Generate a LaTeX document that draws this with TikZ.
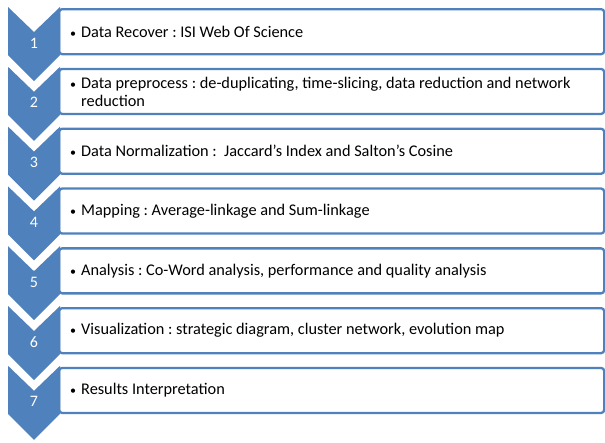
\documentclass[tikz,border=0pt]{standalone}
\usepackage{fontspec}
\setmainfont{Carlito}
\frenchspacing
\usetikzlibrary{positioning,calc}
\definecolor{chev}{RGB}{79,129,189}
\newcommand{\bul}{{\fontsize{12}{12}\selectfont\textbullet}\hspace{5pt}}
\tikzset{num/.style={text=white, font=\fontsize{16}{18}\selectfont, inner sep=0pt}}
\tikzstyle{box}=[draw=chev, line width=2.3pt, rounded corners=3pt, fill=white, minimum width=545pt, minimum height=45pt, anchor=north west, inner sep=0pt]
\tikzstyle{txt}=[anchor=west, align=left, inner sep=0pt, font=\fontsize{16.3}{18}\selectfont]

\begin{document}
\begin{tikzpicture}[x=1pt, y=-1pt]
\useasboundingbox (0,0) rectangle (605,442);
\foreach \i/\t in {1/{\bul Data Recover : ISI Web Of Science},
  2/{\bul Data preprocess : de-duplicating, time-slicing, data reduction and network\\\hphantom{\bul}reduction},
  3/{\bul Data Normalization :\ \ Jaccard's Index and Salton's Cosine},
  4/{\bul Mapping : Average-linkage and Sum-linkage},
  5/{\bul Analysis : Co-Word analysis, performance and quality analysis},
  6/{\bul Visualization : strategic diagram, cluster network, evolution map},
  7/{\bul Results Interpretation}}{
  \pgfmathsetmacro\T{7+(\i-1)*59.8}
  \node[box] (b\i) at (58,{\T+1}) {};
  \node[txt] (t\i) at ($(b\i.west)+(12,0)$) {\t};
  \fill[chev] (8,\T) -- (34,{\T+25}) -- (60,\T) -- (60,{\T+48}) -- (34,{\T+74}) -- (8,{\T+48}) -- cycle;
  \node[num] (n\i) at (34,{\T+36}) {\i};
}
\end{tikzpicture}
\end{document}
